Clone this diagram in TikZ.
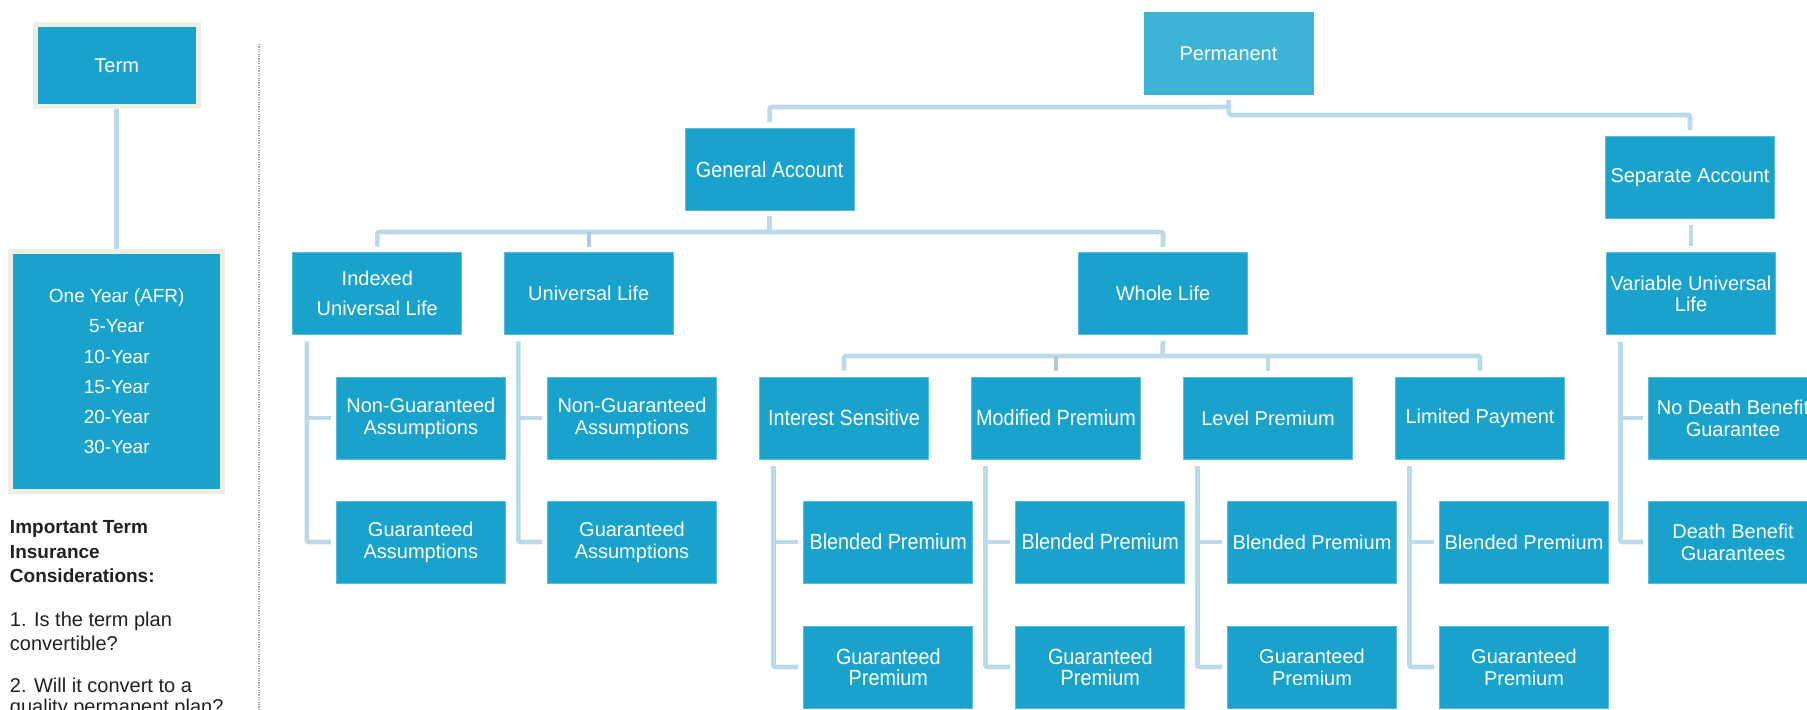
\documentclass[tikz,border=0pt]{standalone}
\usepackage{fontspec}
\setmainfont{Liberation Sans}
\newfontfamily\condfont[FakeStretch=0.9]{Liberation Sans}
\usetikzlibrary{calc}
\definecolor{boxblue}{RGB}{24,162,204}
\definecolor{permblue}{RGB}{61,179,214}
\definecolor{edgeblue}{RGB}{88,190,224}
\definecolor{linkblue}{RGB}{188,217,234}
\definecolor{tickblue}{RGB}{181,198,224}
\definecolor{beigeedge}{RGB}{238,238,228}
\definecolor{textdark}{RGB}{35,31,32}
\begin{document}
\begin{tikzpicture}[x=0.5pt,y=-0.5pt,
  box/.style={draw=edgeblue, line width=0.5pt, fill=boxblue, text=white,
    minimum width=84.5pt, minimum height=41pt, inner sep=0pt, align=center,
    font=\fontsize{10}{10.85}\selectfont},
  cbox/.style={box, font=\condfont\fontsize{11}{10.85}\selectfont},
  termbox/.style={draw=beigeedge, line width=2.5pt, fill=boxblue, text=white,
    inner sep=0pt, align=center},
  conn/.style={draw=linkblue, line width=2.3pt, rounded corners=1pt},
  tick/.style={conn, draw=tickblue},
  note/.style={text=textdark, inner sep=0pt, align=left, anchor=north west}]
\useasboundingbox (0,0) rectangle (1807,709);
\clip (0,0) rectangle (1807,709);

% ---------- Term column ----------
\node[termbox, minimum width=81.7pt, minimum height=41.3pt,
      font=\fontsize{10}{12}\selectfont] (term) at (116.7,65.5) {Term};
\node[termbox, minimum width=105.8pt, minimum height=120pt,
      font=\fontsize{9.5}{15.1}\selectfont] (years) at (116.7,371.3)
  {One Year (AFR)\\5-Year\\10-Year\\15-Year\\20-Year\\30-Year};
\draw[conn] (term.south) -- (years.north);

\node[note, font=\bfseries\fontsize{9.5}{12.2}\selectfont] (imp) at (9.6,520.5)
  {Important Term\\Insurance\\Considerations:};
\node[note, font=\fontsize{10}{11.8}\selectfont] (q1) at (9.6,611.5)
  {1. Is the term plan\\convertible?};
\node[note, font=\fontsize{10}{10.5}\selectfont] (q2) at (9.6,677.5)
  {2. Will it convert to a\\quality permanent plan?};

% divider
\draw[gray!70, line width=0.7pt, dash pattern=on 0.6pt off 0.6pt] (259,44) -- (259,709);

% ---------- Permanent tree ----------
\node[box, fill=permblue, draw=permblue] (perm) at (1228.5,53.3) {Permanent};
\node[cbox] (gen) at (769.7,169.5) {General Account};
\node[box] (sep) at (1690,177.3) {Separate Account};

\node[box, font=\fontsize{10}{15}\selectfont] (iul) at (377.3,293.4) {Indexed\\Universal Life};
\node[box] (ul) at (588.8,293.4) {Universal Life};
\node[box] (wl) at (1163,293.8) {Whole Life};
\node[box] (vul) at (1691,293.8) {Variable Universal\\Life};

% row 3
\node[box] (ngA) at (420.8,418) {Non-Guaranteed\\Assumptions};
\node[box] (ngB) at (632,418) {Non-Guaranteed\\Assumptions};
\node[cbox] (is) at (844,418) {Interest Sensitive};
\node[cbox] (mp) at (1056,418) {Modified Premium};
\node[box] (lp) at (1268,418) {Level Premium};
\node[box] (lim) at (1480,418) {Limited Payment};
\node[box] (ndb) at (1733,418) {No Death Benefit\\Guarantee};

% row 4
\node[box] (gaA) at (420.8,542) {Guaranteed\\Assumptions};
\node[box] (gaB) at (632,542) {Guaranteed\\Assumptions};
\node[cbox] (blA) at (888.3,542) {Blended Premium};
\node[cbox] (blB) at (1100.3,542) {Blended Premium};
\node[box] (blC) at (1312,542) {Blended Premium};
\node[box] (blD) at (1524,542) {Blended Premium};
\node[box] (dbg) at (1733,542) {Death Benefit\\Guarantees};

% row 5
\node[cbox] (gpA) at (888.3,667) {Guaranteed\\Premium};
\node[cbox] (gpB) at (1100.3,667) {Guaranteed\\Premium};
\node[box] (gpC) at (1312,667) {Guaranteed\\Premium};
\node[box] (gpD) at (1524,667) {Guaranteed\\Premium};

% ---------- connectors ----------
\coordinate (pjL) at (1229,107);
\coordinate (pjR) at (1229,115);
\draw[conn, shorten <=2.5pt] (perm.south) -- (pjR);
\draw[conn, shorten >=2.8pt] (pjR) -| (sep.north);
\draw[conn, shorten >=2.8pt] (pjL) -| (gen.north);

\coordinate (gj) at (769.7,232);
\draw[conn, shorten <=2.7pt] (gen.south) -- (gj);
\draw[conn, shorten >=2.7pt] (gj) -| (iul.north);
\draw[conn, shorten >=2.7pt] (gj) -| (wl.north);
\draw[tick, shorten >=2.7pt] (gj -| ul.north) -- (ul.north);

\draw[conn, shorten <=3.2pt, shorten >=3.2pt] (vul.north |- sep.south) -- (vul.north);

\coordinate (wj) at (1162.5,356);
\draw[conn, shorten <=2.8pt] (wl.south) -- (wj);
\draw[conn, shorten >=3pt] (wj) -| (is.north);
\draw[conn, shorten >=3pt] (wj) -| (lim.north);
\draw[tick, shorten >=3pt] (wj -| mp.north) -- (mp.north);
\draw[conn, shorten >=3pt] (wj -| lp.north) -- (lp.north);

\foreach \p/\a/\b in {iul/ngA/gaA, ul/ngB/gaB, vul/ndb/dbg, is/blA/gpA,
                      mp/blB/gpB, lp/blC/gpC, lim/blD/gpD} {
  \coordinate (\p T) at ($(\p.south west)+(14.5,6.5)$);
  \coordinate (\b E) at ($(\b.west)+(-5,0)$);
  \coordinate (\a E) at ($(\a.west)+(-5,0)$);
  \draw[conn] (\p T) |- (\b E);
  \draw[conn] (\p T |- \a E) -- (\a E);
}
\end{tikzpicture}
\end{document}
